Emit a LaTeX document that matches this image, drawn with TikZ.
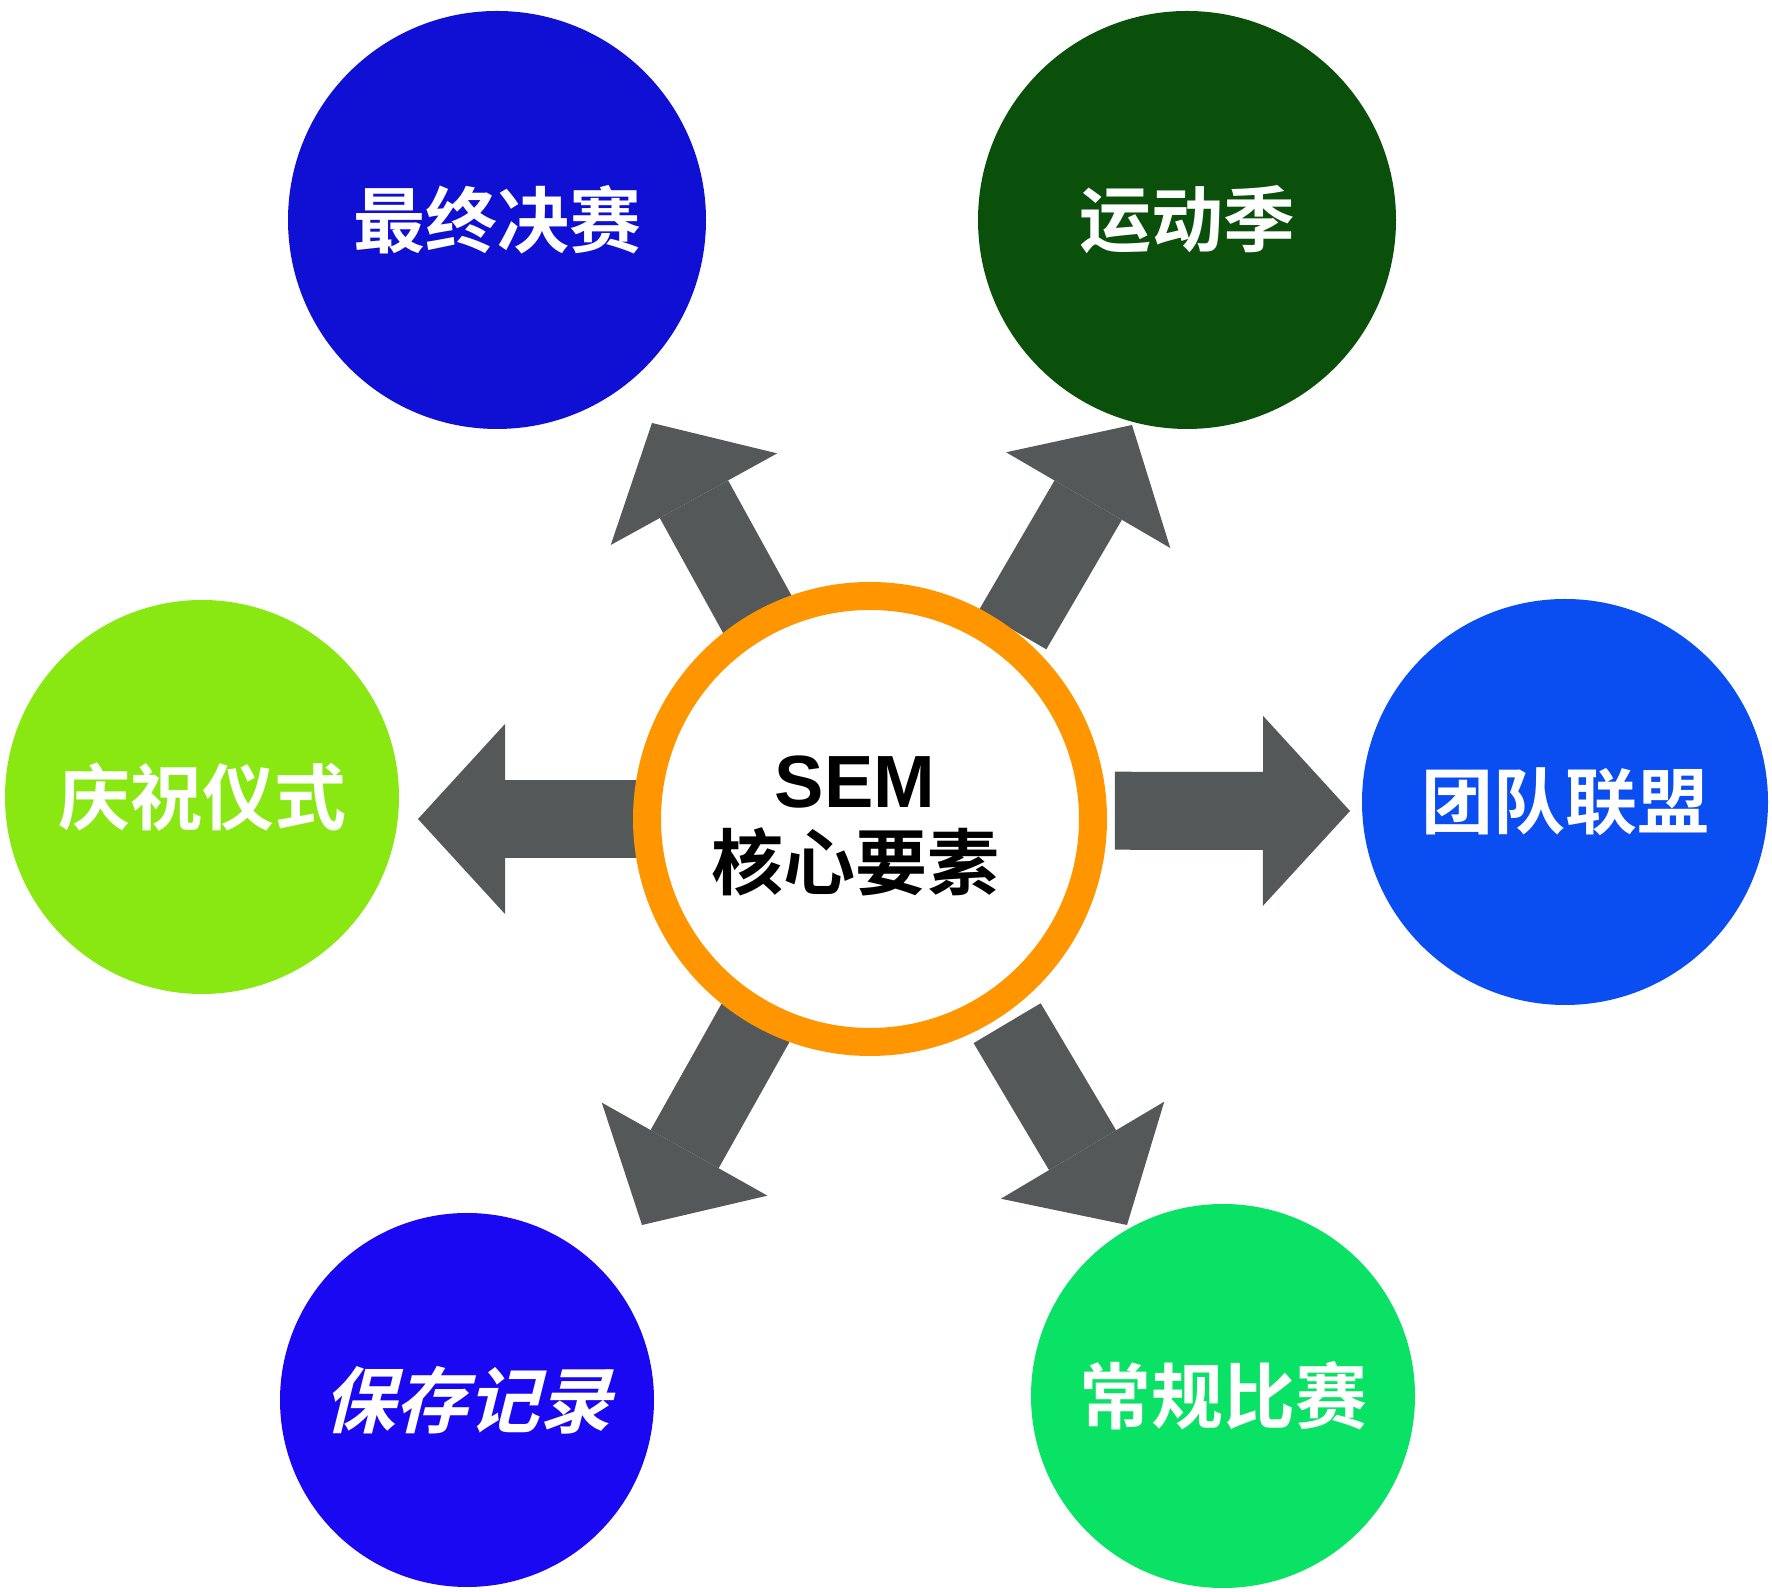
\documentclass[tikz,border=0pt]{standalone}
\usepackage{fontspec}
\usepackage{xcolor}
\usepackage{tikz}
\usetikzlibrary{arrows.meta, backgrounds}
\newfontfamily\cjkfont{Noto Sans CJK SC Bold}
\newfontfamily\cjkslant{Noto Sans CJK SC Bold}[FakeSlant=0.25]
\newfontfamily\semfont{Liberation Sans}
\definecolor{ringorange}{HTML}{FF9600}
\definecolor{arrowgray}{HTML}{555858}
\definecolor{finalblue}{HTML}{1010D4}
\definecolor{seasongreen}{HTML}{0A4F0A}
\definecolor{ceremonylime}{HTML}{8AE812}
\definecolor{allianceblue}{HTML}{0A4EF2}
\definecolor{recordviolet}{HTML}{1A08F2}
\definecolor{regulargreen}{HTML}{0AE266}
\tikzset{
    bubble/.style={
        circle, fill=#1, draw=none, inner sep=0pt,
        text=white, font=\cjkfont\fontsize{72}{86}\selectfont
    },
    bubble/.default=finalblue,
    corering/.style={
        circle, draw=ringorange, fill=white, line width=28pt,
        minimum size=446pt, inner sep=0pt
    },
    coretext/.style={
        align=center, inner sep=0pt, text=black,
        font=\fontsize{72}{82}\selectfont
    },
    bigarrow/.style={
        line width=78pt, color=arrowgray,
        -{Triangle[length=87pt, width=190pt, line width=0pt]}
    },
}

\begin{document}
\begin{tikzpicture}[x=1pt, y=1pt]

    \useasboundingbox (0,0) rectangle (1772,1592);

    % Centre: core elements
    \node[corering] (core) at (870,773) {};
    \node[coretext] (corelabel) at (855,766)
        {{\semfont\bfseries\fontsize{74}{82}\selectfont SEM}\\{\cjkfont 核心要素}};

    % Upper row
    \node[bubble=finalblue, minimum size=418pt] (final) at (497,1372) {最终决赛};
    \node[bubble=seasongreen, minimum size=418pt] (season) at (1187,1372) {运动季};

    % Middle row
    \node[bubble=ceremonylime, minimum size=394pt] (ceremony) at (202,795) {庆祝仪式};
    \node[bubble=allianceblue, minimum size=406pt] (alliance) at (1565,790) {团队联盟};

    % Lower row
    \node[bubble=recordviolet, minimum size=374pt,
          font=\cjkslant\fontsize{72}{86}\selectfont] (record) at (467,192) {保存记录};
    \node[bubble=regulargreen, minimum size=384pt] (regular) at (1223,196) {常规比赛};

    % Arrow tips
    \coordinate (tfinal) at (652,1169);
    \coordinate (tseason) at (1132,1167);
    \coordinate (tceremony) at (418,773);
    \coordinate (talliance) at (1350,781);
    \coordinate (trecord) at (642,367);
    \coordinate (tregular) at (1127,367);

    % Arrows, under the ring
    \begin{scope}[on background layer]
        \fill[white] (0,0) rectangle (1772,1592);
        \draw[bigarrow, shorten <=215pt] (core.center) -- (tfinal);
        \draw[bigarrow] (core.53) -- (tseason);
        \draw[bigarrow, shorten <=215pt] (core.center) -- (tceremony);
        \draw[bigarrow, shorten <=8pt] (core.2) -- (talliance);
        \draw[bigarrow, shorten <=215pt] (core.center) -- (trecord);
        \draw[bigarrow, shorten <=9pt] (core.-56) -- (tregular);
    \end{scope}

\end{tikzpicture}
\end{document}
